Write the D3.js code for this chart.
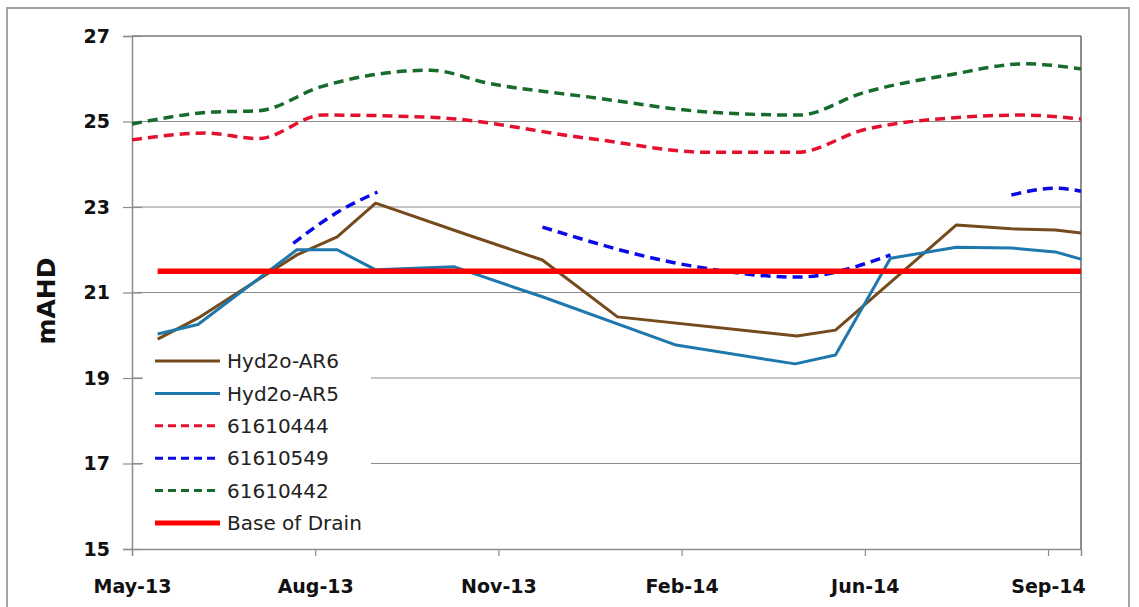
<!DOCTYPE html>
<html>
<head>
<meta charset="utf-8">
<script src="https://d3js.org/d3.v7.min.js"></script>
<style>
  body { margin: 0; background: #fff; }
  svg text { font-family: "DejaVu Sans", sans-serif; }
</style>
</head>
<body>
<script>
// groundwater levels (mAHD), dates are sampling days
var ar6Dates  = ["2013-05-15","2013-06-06","2013-07-30","2013-08-21","2013-09-11","2013-10-31","2013-12-11","2014-01-21","2014-04-29","2014-05-20","2014-07-25","2014-08-24","2014-09-17","2014-10-01"];
var ar6Values = [19.91, 20.40, 21.88, 22.30, 23.09, 22.35, 21.76, 20.43, 19.98, 20.12, 22.58, 22.49, 22.46, 22.39];

var ar5Dates  = ["2013-05-15","2013-06-06","2013-07-30","2013-08-21","2013-09-11","2013-10-24","2013-11-27","2013-12-11","2014-02-22","2014-04-28","2014-05-20","2014-06-19","2014-07-25","2014-08-24","2014-09-17","2014-10-01"];
var ar5Values = [20.03, 20.25, 22.00, 22.00, 21.53, 21.60, 21.10, 20.90, 19.77, 19.33, 19.54, 21.80, 22.06, 22.04, 21.95, 21.78];

var b444Dates  = ["2013-05-01","2013-06-10","2013-07-09","2013-08-13","2013-10-11","2014-01-06","2014-03-12","2014-04-29","2014-06-04","2014-07-21","2014-08-30","2014-10-01"];
var b444Values = [24.57, 24.73, 24.60, 25.15, 25.10, 24.60, 24.28, 24.28, 24.80, 25.08, 25.15, 25.06];

// null = no reading (gap in the line)
var b549Dates  = ["2013-07-28","2013-08-22","2013-09-12","2013-10-30","2013-12-11","2014-02-28","2014-04-29","2014-06-19","2014-07-20","2014-08-24","2014-09-17","2014-10-01"];
var b549Values = [22.15, 22.90, 23.35, null, 22.53, 21.64, 21.36, 21.88, null, 23.28, 23.44, 23.37];

var b442Dates  = ["2013-05-01","2013-06-14","2013-07-09","2013-08-12","2013-10-11","2013-11-11","2014-01-06","2014-03-12","2014-04-30","2014-06-04","2014-07-21","2014-09-01","2014-10-01"];
var b442Values = [24.94, 25.22, 25.25, 25.81, 26.20, 25.90, 25.57, 25.22, 25.15, 25.67, 26.09, 26.35, 26.23];

var drainDates  = ["2013-05-15","2014-10-01"];
var drainValues = [21.5, 21.5];

var yTicks = [15, 17, 19, 21, 23, 25, 27];

var parse = d3.timeParse("%Y-%m-%d");
function pts(dates, values) {
  return dates.map(function (d, i) { return { date: parse(d), value: values[i] }; });
}

var series = [
  { name: "Hyd2o-AR6",    data: pts(ar6Dates, ar6Values),   color: "#754a1c", width: 3,   dash: null,  smooth: false },
  { name: "Hyd2o-AR5",    data: pts(ar5Dates, ar5Values),   color: "#1f78ad", width: 3,   dash: null,  smooth: false },
  { name: "61610444",     data: pts(b444Dates, b444Values), color: "#e3102e", width: 3.5, dash: "10,6", smooth: true },
  { name: "61610549",     data: pts(b549Dates, b549Values), color: "#0a0ae6", width: 3.5, dash: "10,6", smooth: true },
  { name: "61610442",     data: pts(b442Dates, b442Values), color: "#176b2c", width: 3.5, dash: "10,6", smooth: true },
  { name: "Base of Drain",data: pts(drainDates, drainValues), color: "#ff0000", width: 5.5, dash: null, smooth: false }
];

var W = 1139, H = 607;
var svg = d3.select("body").append("svg").attr("width", W).attr("height", H);

// chart frame
svg.append("rect")
    .attr("x", 7).attr("y", 8).attr("width", 1122).attr("height", 640)
    .attr("fill", "#fff").attr("stroke", "#a3a3a3").attr("stroke-width", 2);

var start = parse("2013-05-01"), end = parse("2014-10-01");
var x = d3.scaleTime().domain([start, end]).range([132, 1081]);
var y = d3.scaleLinear().domain([15, 27]).range([549, 36]);

// gridlines
svg.append("g").selectAll("line")
    .data(yTicks.filter(function (d) { return d > 15; }))
    .enter().append("line")
    .attr("x1", 132).attr("x2", 1081)
    .attr("y1", function (d) { return y(d); })
    .attr("y2", function (d) { return y(d); })
    .attr("stroke", function (d) { return d === 27 ? "#333" : "#8c8c8c"; })
    .attr("stroke-width", 1.2);

// right border of plot
svg.append("line")
    .attr("x1", 1081).attr("x2", 1081).attr("y1", 36).attr("y2", 549)
    .attr("stroke", "#666").attr("stroke-width", 1.5);

// axes
var xTicks = d3.range(6).map(function (k) { return d3.timeDay.offset(start, 100 * k); });
var xAxis = svg.append("g")
    .attr("transform", "translate(0,549)")
    .call(d3.axisBottom(x).tickValues(xTicks).tickFormat(d3.timeFormat("%b-%y"))
      .tickSize(7).tickPadding(24));
var yAxis = svg.append("g")
    .attr("transform", "translate(132,0)")
    .call(d3.axisLeft(y).tickValues(yTicks).tickFormat(d3.format("d"))
      .tickSize(9).tickPadding(13));

[xAxis, yAxis].forEach(function (g) {
  g.select(".domain").attr("stroke", "#8c8c8c").attr("stroke-width", 1.5);
  g.selectAll(".tick line").attr("stroke", "#8c8c8c").attr("stroke-width", 1.2);
  g.selectAll("text")
      .attr("fill", "#111")
      .style("font-family", "'DejaVu Sans', sans-serif")
      .style("font-size", "19px")
      .style("font-weight", "bold");
});
// cross ticks on y axis
yAxis.selectAll(".tick").append("line")
    .attr("x1", 0).attr("x2", 10)
    .attr("stroke", "#8c8c8c").attr("stroke-width", 1.2);

svg.append("text")
    .attr("transform", "translate(55,301) rotate(-90)")
    .attr("text-anchor", "middle")
    .style("font-size", "25px")
    .style("font-weight", "bold")
    .attr("fill", "#111")
    .text("mAHD");

// series
series.forEach(function (s) {
  var line = d3.line()
      .defined(function (d) { return d.value !== null; })
      .x(function (d) { return x(d.date); })
      .y(function (d) { return y(d.value); })
      .curve(s.smooth ? d3.curveMonotoneX : d3.curveLinear);
  svg.append("path")
      .datum(s.data)
      .attr("d", line)
      .attr("fill", "none")
      .attr("stroke", s.color)
      .attr("stroke-width", s.width)
      .attr("stroke-dasharray", s.dash)
      .attr("stroke-linejoin", "round");
});

// legend
var legend = svg.append("g");
legend.append("rect")
    .attr("x", 143).attr("y", 346).attr("width", 228).attr("height", 192)
    .attr("fill", "#fff");
var rows = legend.selectAll("g.row").data(series).enter().append("g")
    .attr("transform", function (d, i) { return "translate(0," + (361 + i * 32.4) + ")"; });
rows.append("line")
    .attr("x1", 155).attr("x2", 220)
    .attr("stroke", function (d) { return d.color; })
    .attr("stroke-width", function (d) { return d.name === "Base of Drain" ? 5 : 3; })
    .attr("stroke-dasharray", function (d) { return d.dash ? "8,5" : null; });
rows.append("text")
    .attr("x", 227).attr("dy", "0.36em")
    .style("font-size", "20px")
    .attr("fill", "#222")
    .text(function (d) { return d.name; });
</script>
</body>
</html>
